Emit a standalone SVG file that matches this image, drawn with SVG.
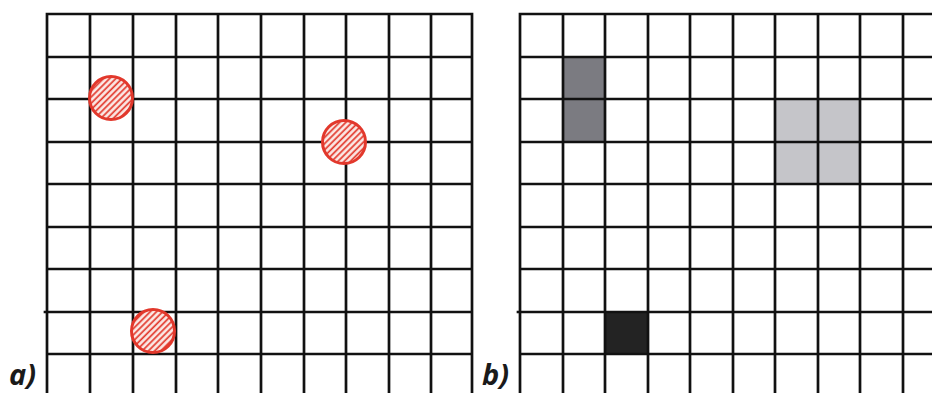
<svg xmlns="http://www.w3.org/2000/svg" width="932" height="393" viewBox="0 0 932 393">
  <defs>
    <style>
      .grid { fill: none; stroke: #111; stroke-width: 2.7; stroke-linecap: square; }
      .dot { fill: url(#hatch); stroke: #e2382c; stroke-width: 3; }
      .lbl { font-family: "Open Sans", "DejaVu Sans", sans-serif; font-weight: bold; font-style: italic; font-size: 29px; fill: #1a1a1a; }
    </style>
    <pattern id="hatch" patternUnits="userSpaceOnUse" width="4.4" height="4.4" patternTransform="rotate(-45)">
      <rect width="4.4" height="4.4" fill="#fbe9e6"/>
      <line x1="0" y1="1.1" x2="4.4" y2="1.1" stroke="#e2382c" stroke-width="1.7"/>
    </pattern>
  </defs>
  <rect width="932" height="393" fill="#ffffff"/>

  <g id="panel-a">
    <path class="grid" d="M47,14V400 M90,14V400 M133,14V400 M176,14V400 M218,14V400 M261,14V400 M304,14V400 M346,14V400 M389,14V400 M431,14V400 M472,14V400
      M47,14H472 M47,57H472 M47,99H472 M47,142H472 M47,184H472 M47,227H472 M47,269H472 M45,312H472 M47,354H472"/>
    <g id="dot-1"><circle class="dot" cx="111" cy="98" r="21.5"/></g>
    <g id="dot-2"><circle class="dot" cx="344" cy="142" r="21.5"/></g>
    <g id="dot-3"><circle class="dot" cx="153" cy="331" r="21.5"/></g>
    <text class="lbl" x="9" y="385">a)</text>
  </g>

  <g id="panel-b">
    <rect x="563" y="57" width="42" height="85" fill="#7b7b81"/>
    <rect x="775" y="99" width="85" height="85" fill="#c5c5c9"/>
    <rect x="605" y="312" width="42" height="42" fill="#232323"/>
    <path class="grid" d="M520,14V400 M563,14V400 M605,14V400 M648,14V400 M690,14V400 M733,14V400 M775,14V400 M818,14V400 M860,14V400 M903,14V400
      M520,14H940 M520,57H940 M520,99H940 M520,142H940 M520,184H940 M520,227H940 M520,269H940 M518,312H940 M520,354H940"/>
    <text class="lbl" x="482" y="385">b)</text>
  </g>
</svg>
